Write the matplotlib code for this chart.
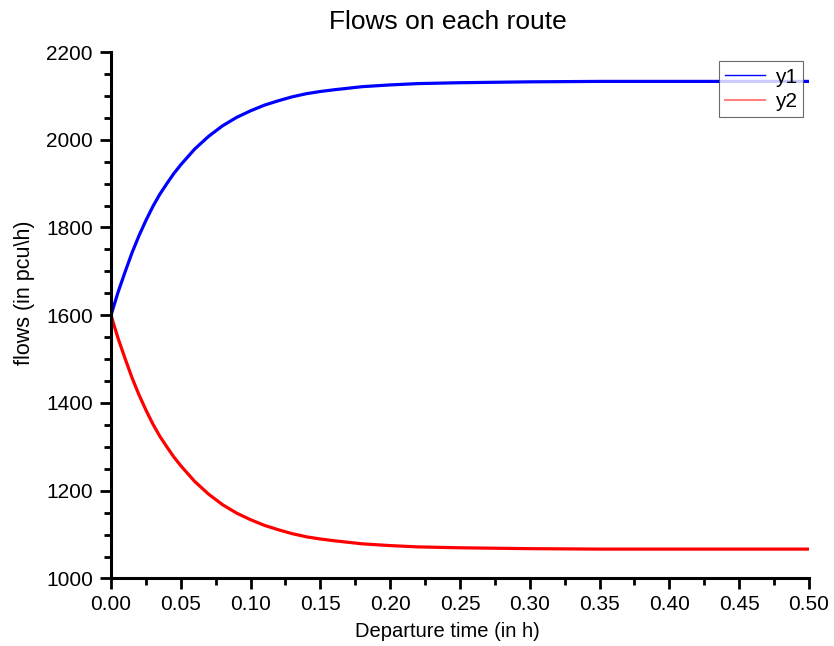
import numpy as np
import matplotlib.pyplot as plt
from matplotlib.ticker import MultipleLocator
from matplotlib.lines import Line2D

plt.rcParams['font.family'] = ['Liberation Sans', 'DejaVu Sans']

# departure time (h) and route flows (pcu/h)
t = [0.0, 0.005, 0.01, 0.015, 0.02, 0.025, 0.03, 0.035, 0.04, 0.045, 0.05,
     0.06, 0.07, 0.08, 0.09, 0.10, 0.11, 0.12, 0.13, 0.14, 0.15, 0.16, 0.18,
     0.20, 0.22, 0.25, 0.30, 0.35, 0.40, 0.50]
y1 = [1600, 1652, 1698, 1742, 1781, 1816, 1848, 1876, 1900, 1923, 1943,
      1979, 2008, 2032, 2051, 2066, 2079, 2089, 2098, 2105, 2110, 2114, 2121,
      2125, 2128, 2130, 2132, 2133, 2133, 2133]
y2 = [1600, 1548, 1502, 1458, 1419, 1384, 1352, 1324, 1300, 1277, 1257,
      1221, 1192, 1168, 1149, 1134, 1121, 1111, 1102, 1095, 1090, 1086, 1079,
      1075, 1072, 1070, 1068, 1067, 1067, 1067]

fig = plt.figure(figsize=(8.34, 6.46), dpi=100)
ax = fig.add_axes([0.1331, 0.1045, 0.8369, 0.815])

ax.plot(t, y1, color='#0000ff', lw=2.3, solid_capstyle='butt')
ax.plot(t, y2, color='#ff0000', lw=2.3, solid_capstyle='butt')

ax.set_xlim(0, 0.5)
ax.set_ylim(1000, 2200)
ax.set_xticks(np.arange(0, 0.501, 0.05))
ax.set_xticklabels(['{:.2f}'.format(v) for v in np.arange(0, 0.501, 0.05)])
ax.xaxis.set_minor_locator(MultipleLocator(0.025))
ax.yaxis.set_major_locator(MultipleLocator(200))
ax.yaxis.set_minor_locator(MultipleLocator(50))

for s in ['top', 'right']:
    ax.spines[s].set_visible(False)
for s in ['left', 'bottom']:
    ax.spines[s].set_linewidth(2.2)
ax.tick_params(which='major', length=8, width=2, labelsize=15)
ax.tick_params(axis='y', which='major', pad=5)
ax.tick_params(axis='x', which='major', pad=4)
ax.tick_params(which='minor', length=5, width=2)

fig.text(0.537, 0.966, 'Flows on each route', fontsize=19,
         ha='center', va='center')
fig.text(0.537, 0.023, 'Departure time (in h)', fontsize=14.5,
         ha='center', va='center')
fig.text(0.029, 0.547, 'flows (in pcu\\h)', fontsize=15.5,
         ha='center', va='center', rotation=90)

handles = [Line2D([], [], color='#0000ff', lw=1),
           Line2D([], [], color='#ff8080', lw=1.5)]
leg = ax.legend(handles, ['y1', 'y2'], loc='upper right',
                bbox_to_anchor=(0.992, 0.982), fontsize=15, frameon=True,
                fancybox=False, edgecolor='#444444', handlelength=1.9,
                handletextpad=0.5, borderpad=0.3, labelspacing=0.25,
                borderaxespad=0)
leg.get_frame().set_linewidth(0.8)

fig.savefig('out.png', dpi=100)
